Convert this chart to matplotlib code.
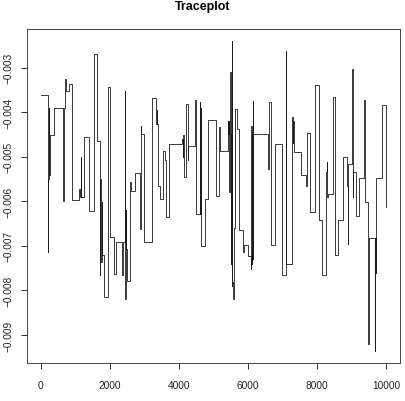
import matplotlib
matplotlib.use("Agg")
import matplotlib.pyplot as plt
from matplotlib.ticker import FixedLocator, FuncFormatter

plt.rcParams["font.family"] = ["Liberation Sans", "DejaVu Sans"]

N_ITER = 10000

# iteration at which the chain moves to a new value, and that value
iters = [
    1, 203, 208, 222, 235, 248, 258, 394, 646, 660, 672, 685, 704, 741, 820,
    897, 1100, 1147, 1160, 1175, 1263, 1408, 1543, 1622, 1717, 1728, 1745,
    1760, 1780, 1833, 1958, 2007, 2123, 2172, 2364, 2393, 2432, 2440, 2450,
    2458, 2465, 2470, 2509, 2586, 2600, 2731, 2876, 2890, 2900, 3001, 3232,
    3348, 3360, 3370, 3380, 3464, 3542, 3600, 3638, 3716, 4101, 4110, 4120,
    4135, 4159, 4217, 4256, 4275, 4460, 4489, 4605, 4620, 4635, 4650, 4767,
    4845, 5086, 5173, 5192, 5415, 5430, 5445, 5462, 5472, 5482, 5492, 5505,
    5515, 5525, 5535, 5545, 5550, 5560, 5580, 5636, 5676, 5734, 5850, 5870,
    5995, 6090, 6100, 6110, 6120, 6130, 6140, 6148, 6573, 6620, 6678, 6794,
    6979, 7095, 7113, 7287, 7300, 7310, 7320, 7530, 7675, 7712, 7808, 7935,
    8068, 8138, 8254, 8280, 8295, 8305, 8465, 8523, 8610, 8755, 8862, 8890,
    8905, 9020, 9040, 9050, 9131, 9209, 9363, 9375, 9385, 9395, 9479, 9490,
    9673, 9685, 9695, 9705, 9884, 9988,
]
values = [
    -0.00361, -0.00714, -0.00385, -0.0055, -0.0039, -0.0054, -0.00451,
    -0.00391, -0.00600, -0.0041, -0.0058, -0.0039, -0.00325, -0.00352,
    -0.00337, -0.00598, -0.00572, -0.0059, -0.0050, -0.0059, -0.00455,
    -0.00621, -0.00269, -0.00464, -0.00766, -0.0055, -0.00736, -0.00602,
    -0.00721, -0.00815, -0.00344, -0.0068, -0.00763, -0.00691, -0.00766,
    -0.00691, -0.00352, -0.0058, -0.00819, -0.0062, -0.0079, -0.00706,
    -0.00778, -0.00557, -0.00577, -0.00537, -0.00662, -0.0043, -0.00449,
    -0.00692, -0.00369, -0.00426, -0.00395, -0.00426, -0.00565, -0.00594,
    -0.00486, -0.00508, -0.00635, -0.00471, -0.0046, -0.0050, -0.00452,
    -0.0050, -0.00546, -0.00381, -0.00508, -0.00475, -0.00372, -0.00628,
    -0.00378, -0.00628, -0.0039, -0.0070, -0.00594, -0.00417, -0.00587,
    -0.00434, -0.00486, -0.00419, -0.0045, -0.0042, -0.0058, -0.0032,
    -0.0056, -0.0031, -0.0074, -0.0045, -0.0079, -0.00325, -0.0024,
    -0.0078, -0.00819, -0.0066, -0.00393, -0.00437, -0.00665, -0.00714,
    -0.00698, -0.00723, -0.00751, -0.0043, -0.0074, -0.0045, -0.0073,
    -0.00374, -0.00449, -0.00527, -0.00378, -0.00699, -0.00471, -0.00766,
    -0.00262, -0.0074, -0.00411, -0.0047, -0.0042, -0.0049, -0.00542,
    -0.00565, -0.00446, -0.00623, -0.0034, -0.00643, -0.00766, -0.00535,
    -0.00512, -0.0059, -0.00583, -0.00366, -0.00721, -0.00643, -0.00501,
    -0.00565, -0.00695, -0.00516, -0.00303, -0.00591, -0.00535, -0.00632,
    -0.00548, -0.00372, -0.0058, -0.0040, -0.00602, -0.0092, -0.00683,
    -0.00935, -0.00683, -0.0076, -0.00548, -0.00384, -0.00613,
]

x_ticks = [0, 2000, 4000, 6000, 8000, 10000]
y_ticks = [-0.009, -0.008, -0.007, -0.006, -0.005, -0.004, -0.003]

fig = plt.figure(figsize=(4.05, 4.02), dpi=100)
ax = fig.add_axes([27 / 405, 38 / 402, 373 / 405, 334.5 / 402])

xs = iters + [N_ITER]
ys = values + [values[-1]]
ax.step(xs, ys, where="post", color="#1a1a1a", linewidth=0.6)

# R-style 4% padding around the data range
x_lo, x_hi = 1, N_ITER
y_lo, y_hi = min(values), max(values)
ax.set_xlim(x_lo - 0.04 * (x_hi - x_lo), x_hi + 0.04 * (x_hi - x_lo))
ax.set_ylim(y_lo - 0.04 * (y_hi - y_lo), y_hi + 0.04 * (y_hi - y_lo))

ax.xaxis.set_major_locator(FixedLocator(x_ticks))
ax.yaxis.set_major_locator(FixedLocator(y_ticks))
ax.yaxis.set_major_formatter(FuncFormatter(lambda v, p: f"{v:.3f}".replace("-", "\u2212")))
ax.tick_params(axis="both", direction="out", length=4.3, width=0.7,
               labelsize=7.3, color="#333333", labelcolor="#222222")
ax.tick_params(axis="x", pad=8)
ax.tick_params(axis="y", pad=5.5)
for lab in ax.get_yticklabels():
    lab.set_rotation(90)
    lab.set_va("center")

for s in ax.spines.values():
    s.set_linewidth(0.7)
    s.set_color("#444444")

fig.text(0.5, 1 - 10 / 402, "Traceplot", ha="center", va="baseline",
         fontsize=9, fontweight="bold")

fig.savefig("out.png", dpi=100)
